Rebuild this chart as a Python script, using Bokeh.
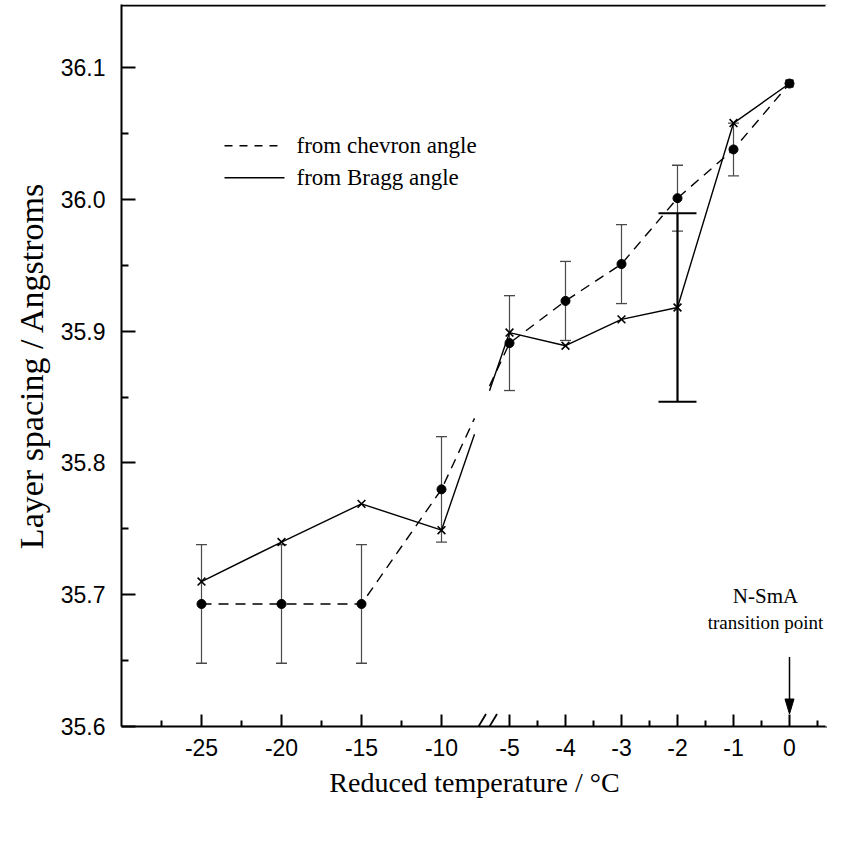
from bokeh.plotting import figure
from bokeh.models import FixedTicker, PrintfTickFormatter, LinearAxis
from bokeh.core.properties import value
from bokeh.embed import file_html
from bokeh.resources import INLINE

# ---------------- data ----------------
temps = [-25, -20, -15, -10, -5, -4, -3, -2, -1, 0]
chevron = [35.693, 35.693, 35.693, 35.780, 35.891, 35.923, 35.951, 36.001, 36.038, 36.088]
chevron_err = [0.045, 0.045, 0.045, 0.040, 0.036, 0.030, 0.030, 0.025, 0.020, 0.0]
bragg = [35.710, 35.740, 35.769, 35.749, 35.899, 35.889, 35.909, 35.918, 36.058, 36.088]
bragg_err_temps = [-2]
bragg_err = [0.0715]
x_tick_labels = [-25, -20, -15, -10, -5, -4, -3, -2, -1, 0]
x_minor_ticks = [-27.5, -22.5, -17.5, -12.5, -4.5, -3.5, -2.5, -1.5, -0.5, 0.5]
y_ticks = [35.6, 35.7, 35.8, 35.9, 36.0, 36.1]
y_minor_ticks = [35.65, 35.75, 35.85, 35.95, 36.05]
legend_labels = ["from chevron angle", "from Bragg angle"]

# ---------------- broken x axis transform (1 x unit = 1 px) ----------------
def xpos(t):
    # left part: 16 px per degree; right part: 56 px per degree
    return (t + 30) * 16 if t <= -10 else 668 + 56 * t

PXY = 1318.0                 # pixels per Angstrom on the y axis
YBASE, YTOP = 35.6, 36.148
XMAX = 706
GAP0, GAP1 = 353, 368        # gap in the lines at the axis break
BREAKS = [357, 368]          # centres of the two break slashes

SANS = "Liberation Sans"
SERIF = "Liberation Serif"

p = figure(width=827, height=818, x_range=(0, XMAX), y_range=(YBASE, YTOP),
           output_backend="svg", toolbar_location=None,
           min_border_left=121, min_border_right=0, min_border_top=4,
           min_border_bottom=92)
p.outline_line_color = None
p.grid.visible = False
p.background_fill_color = None
p.border_fill_color = None

xs = [xpos(t) for t in temps]

def split(vals):
    i = temps.index(-10)
    x0, y0, x1, y1 = xs[i], vals[i], xs[i + 1], vals[i + 1]
    ya = y0 + (y1 - y0) * (GAP0 - x0) / (x1 - x0)
    yb = y0 + (y1 - y0) * (GAP1 - x0) / (x1 - x0)
    left = (xs[:i + 1] + [GAP0], vals[:i + 1] + [ya])
    right = ([GAP1] + xs[i + 1:], [yb] + vals[i + 1:])
    return left, right

# ---- top border ----
p.segment([0], [YTOP - 1 / PXY], [XMAX], [YTOP - 1 / PXY], line_color="black", line_width=2)

# ---- error bars (chevron), drawn as segments ----
ex = [xpos(t) for t, e in zip(temps, chevron_err) if e > 0]
elo = [v - e for v, e in zip(chevron, chevron_err) if e > 0]
ehi = [v + e for v, e in zip(chevron, chevron_err) if e > 0]
EC = "#4a4a4a"
p.segment(ex, elo, ex, ehi, line_color=EC, line_width=1.2)
cw = 5.5
p.segment([x - cw for x in ex], elo, [x + cw for x in ex], elo, line_color=EC, line_width=1.3)
p.segment([x - cw for x in ex], ehi, [x + cw for x in ex], ehi, line_color=EC, line_width=1.3)

# ---- error bar (Bragg, at -2) ----
bx = [xpos(t) for t in bragg_err_temps]
bv = [bragg[temps.index(t)] for t in bragg_err_temps]
blo = [v - e for v, e in zip(bv, bragg_err)]
bhi = [v + e for v, e in zip(bv, bragg_err)]
bw = 19
p.segment(bx, blo, bx, bhi, line_color="black", line_width=2.2)
p.segment([x - bw for x in bx], blo, [x + bw for x in bx], blo, line_color="black", line_width=2)
p.segment([x - bw for x in bx], bhi, [x + bw for x in bx], bhi, line_color="black", line_width=2)

# ---- lines ----
(cl, cr) = split(chevron)
(bl, br) = split(bragg)
p.line(cl[0], cl[1], line_color="black", line_width=1.4, line_dash="10 7")
p.line(cr[0], cr[1], line_color="black", line_width=1.4, line_dash="10 7")
p.line(bl[0], bl[1], line_color="black", line_width=1.4)
p.line(br[0], br[1], line_color="black", line_width=1.4)

# ---- markers ----
p.scatter(xs, chevron, marker="circle", size=9, color="black")
p.scatter(xs, bragg, marker="x", size=11, line_color="black", line_width=1.6)

# ---- axes ----
xa = p.xaxis[0]
xa.ticker = FixedTicker(ticks=[xpos(t) for t in x_tick_labels],
                        minor_ticks=[xpos(t) for t in x_minor_ticks])
xa.major_label_overrides = {xpos(t): str(t) for t in x_tick_labels}
ya = p.yaxis[0]
ya.ticker = FixedTicker(ticks=y_ticks, minor_ticks=y_minor_ticks)
ya.formatter = PrintfTickFormatter(format="%.1f")
for ax in (xa, ya):
    ax.axis_line_width = 2
    ax.axis_line_color = "black"
    ax.major_tick_out = 0
    ax.minor_tick_out = 0
    ax.major_tick_line_width = 2
    ax.minor_tick_line_width = 2
    ax.major_label_text_font = SANS
    ax.major_label_text_font_size = "23px"
    ax.major_label_text_color = "black"
    ax.axis_label_text_font = SERIF
    ax.axis_label_text_font_style = "normal"
    ax.axis_label_text_color = "black"
xa.axis_label_text_font_size = "28px"
ya.axis_label_text_font_size = "34px"
xa.major_tick_in = 12
xa.minor_tick_in = 6
ya.major_tick_in = 14
ya.minor_tick_in = 7
xa.major_label_standoff = 12
ya.major_label_standoff = 16
xa.axis_label = "Reduced temperature / \u00b0C"
ya.axis_label = "Layer spacing / Angstroms"
xa.axis_label_standoff = 8
ya.axis_label_standoff = 8

# plain right-hand axis in white: hides the frame's right edge
right = LinearAxis(ticker=FixedTicker(ticks=[]), major_tick_in=0, major_tick_out=0,
                   minor_tick_in=0, minor_tick_out=0, major_label_text_font_size="0px",
                   axis_line_width=4, axis_line_color="white")
p.add_layout(right, "right")

# ---- axis break slashes ----
p.segment([b - 7.5 for b in BREAKS], [YBASE - 12.5 / PXY] * len(BREAKS),
          [b + 7.5 for b in BREAKS], [YBASE + 12.5 / PXY] * len(BREAKS),
          line_color="black", line_width=1.8)

# ---- transition annotation ----
X0 = xpos(0)
p.text(x=[X0 - 24], y=[YBASE + 131 / PXY], text=["N-SmA"], text_align="center",
       text_baseline="middle", text_font=value(SERIF), text_font_size=value("21px"),
       text_color="black")
p.text(x=[X0 - 24], y=[YBASE + 104 / PXY], text=["transition point"], text_align="center",
       text_baseline="middle", text_font=value(SERIF), text_font_size=value("19px"),
       text_color="black")
p.segment([X0], [YBASE + 69.5 / PXY], [X0], [YBASE + 24 / PXY], line_color="black",
          line_width=1.5)
p.patch([X0 - 4.5, X0 + 4.5, X0], [YBASE + 27.5 / PXY, YBASE + 27.5 / PXY, YBASE + 12.5 / PXY],
        fill_color="black", line_color="black", line_width=1)

# ---- legend (drawn by hand) ----
LX0, LX1, LTX = 103, 160, 175
LY = [YBASE + 581 / PXY, YBASE + 549 / PXY]
p.line([LX0, LX1], [LY[0], LY[0]], line_color="black", line_width=1.4, line_dash="8 7")
p.line([LX0, LX1 + 3], [LY[1], LY[1]], line_color="black", line_width=1.4)
p.text(x=[LTX, LTX], y=LY, text=legend_labels, text_align="left", text_baseline="middle",
       text_font=value(SERIF), text_font_size=value("23px"), text_color="black")

open("out.html", "w").write(file_html(p, INLINE))
